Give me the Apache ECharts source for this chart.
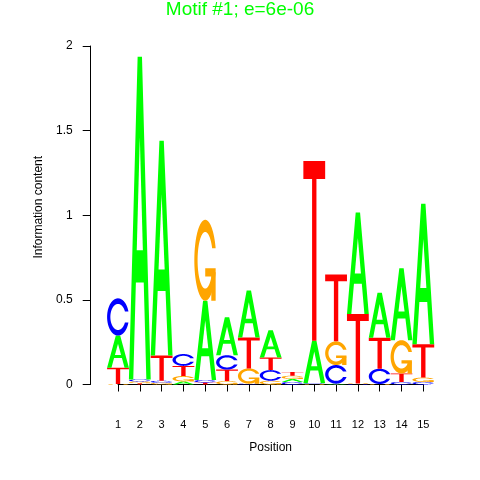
<!DOCTYPE html>
<html><head><meta charset="utf-8">
<script src="https://cdn.jsdelivr.net/npm/echarts@6/dist/echarts.min.js"></script>
<style>html,body{margin:0;padding:0;background:#fff}#c{width:480px;height:480px}</style>
</head><body><div id="c"></div>
<script>
// ---- data ----
const positions = [1,2,3,4,5,6,7,8,9,10,11,12,13,14,15];
const letters = ['A','C','G','T'];
const heightA = [0.19, 1.907, 1.268, 0.018, 0.468, 0.225, 0.278, 0.16, 0.018, 0.25, 0.005, 0.6, 0.266, 0.425, 0.83];
const heightC = [0.22, 0.012, 0.012, 0.07, 0.015, 0.085, 0.005, 0.063, 0.015, 0.005, 0.11, 0.003, 0.09, 0.015, 0.015];
const heightG = [0.003, 0.01, 0.01, 0.032, 0.478, 0.02, 0.09, 0.022, 0.019, 0.003, 0.14, 0.003, 0.003, 0.197, 0.026];
const heightT = [0.096, 0.008, 0.15, 0.06, 0.012, 0.068, 0.183, 0.075, 0.022, 1.062, 0.395, 0.41, 0.183, 0.05, 0.197];
const yTicks = [0, 0.5, 1, 1.5, 2];
const titleText = 'Motif #1; e=6e-06';

const letterColors = {A:'#00FF00', C:'#0000FF', G:'#FFA500', T:'#FF0000'};

// ---- glyph shapes (unit box, y up) ----
function linspace(a,b,n){const r=[];for(let i=0;i<n;i++)r.push(a+(b-a)*i/(n-1));return r;}
function cRing(){
  const n=100, PI=Math.PI;
  const a1=linspace(0.3+PI/2,PI,n), a2=linspace(PI,1.5*PI,n);
  const xl1=a1.map(a=>0.5+0.5*Math.sin(a)), yl1=a1.map(a=>0.5+0.5*Math.cos(a));
  const xl2=a2.map(a=>0.5+0.5*Math.sin(a)), yl2=a2.map(a=>0.5+0.5*Math.cos(a));
  const xl=xl1.concat(xl2), yl=yl1.concat(yl2);
  let x=xl.concat(xl.slice().reverse());
  let y=yl.concat(yl.slice().reverse().map(v=>1-v));
  const maxY=Math.max(...yl1);
  let xi1=a1.map(a=>0.5+0.35*Math.sin(a)), yi1=a1.map(a=>0.5+0.35*Math.cos(a));
  const keep=yi1.map(v=>v<=maxY);
  xi1=xi1.filter((v,i)=>keep[i]); yi1=yi1.filter((v,i)=>keep[i]);
  yi1[0]=maxY;
  const xi2=a2.map(a=>0.5+0.35*Math.sin(a)), yi2=a2.map(a=>0.5+0.35*Math.cos(a));
  const xi=xi1.concat(xi2), yi=yi1.concat(yi2);
  const x1=xi.concat(xi.slice().reverse());
  const y1=yi.concat(yi.slice().reverse().map(v=>1-v));
  x=x.concat(x1.slice().reverse()); y=y.concat(y1.slice().reverse());
  return {pts:x.map((v,i)=>[v,y[i]]), r1:Math.max(...xl1)};
}
const ring=cRing();
const glyphs={
  A:[{pts:[[0,0],[0.4,1],[0.6,1],[1,0],[0.8,0],[0.68,0.3],[0.32,0.3],[0.2,0]]},
     {pts:[[0.36,0.4],[0.5,0.75],[0.64,0.4]], white:true}],
  T:[{pts:[[0,1],[1,1],[1,0.9],[0.6,0.9],[0.6,0],[0.4,0],[0.4,0.9],[0,0.9]]}],
  C:[{pts:ring.pts}],
  G:[{pts:ring.pts},
     {pts:[[ring.r1,0.4],[0.5,0.4],[0.5,0.3],[ring.r1-0.2,0.3],[ring.r1-0.2,0],[ring.r1,0]]}]
};

// ---- stack letters: smallest at bottom ----
const heights={A:heightA,C:heightC,G:heightG,T:heightT};
const stackData=[];
positions.forEach((p,i)=>{
  const col=letters.map((L,k)=>({L,k,h:heights[L][i]})).filter(d=>d.h>0).sort((a,b)=>a.h-b.h);
  let base=0;
  col.forEach(d=>{stackData.push([p,base,base+d.h,d.k]);base+=d.h;});
});

function renderItem(params, api){
  const p=api.value(0), y0=api.value(1), y1=api.value(2), L=letters[api.value(3)];
  const bl=api.coord([p-0.5,y0]), tr=api.coord([p+0.5,y1]);
  const w=tr[0]-bl[0], h=bl[1]-tr[1];
  const children=glyphs[L].map(g=>({
    type:'polygon',
    shape:{points:g.pts.map(q=>[bl[0]+q[0]*w, bl[1]-q[1]*h])},
    style:{fill:g.white?'#ffffff':letterColors[L], stroke:null}
  }));
  return {type:'group', children};
}

const font='"Liberation Sans", Arial, Helvetica, sans-serif';
const chart=echarts.init(document.getElementById('c'),null,{renderer:'canvas'});
chart.setOption({
  animation:false,
  backgroundColor:'#ffffff',
  title:{text:titleText,left:'center',top:-5,textStyle:{color:'#00FF00',fontSize:19,fontWeight:'normal',fontFamily:font}},
  grid:{left:118,right:56.7,top:46,bottom:95.5},
  xAxis:{type:'value',min:1,max:15,interval:1,offset:17.5,
    axisLine:{show:true,lineStyle:{color:'#000',width:1}},
    axisTick:{show:true,length:7,lineStyle:{color:'#000'}},
    axisLabel:{color:'#000',fontSize:11,fontFamily:font,margin:17},
    splitLine:{show:false},
    name:'Position',nameLocation:'middle',nameGap:40,
    nameTextStyle:{color:'#000',fontSize:12,fontFamily:font}},
  yAxis:{type:'value',min:yTicks[0],max:yTicks[yTicks.length-1],interval:0.5,offset:27.3,
    axisLine:{show:true,lineStyle:{color:'#000',width:1}},
    axisTick:{show:true,length:8,lineStyle:{color:'#000'}},
    axisLabel:{color:'#000',fontSize:12,fontFamily:font,margin:18},
    splitLine:{show:false},
    name:'Information content',nameLocation:'middle',nameGap:46,nameRotate:90,
    nameTextStyle:{color:'#000',fontSize:12,fontFamily:font,padding:[0,0,0,16]}},
  series:[{type:'custom',renderItem,data:stackData,clip:false,
    encode:{x:0,y:[1,2]},silent:true}]
});
</script></body></html>
